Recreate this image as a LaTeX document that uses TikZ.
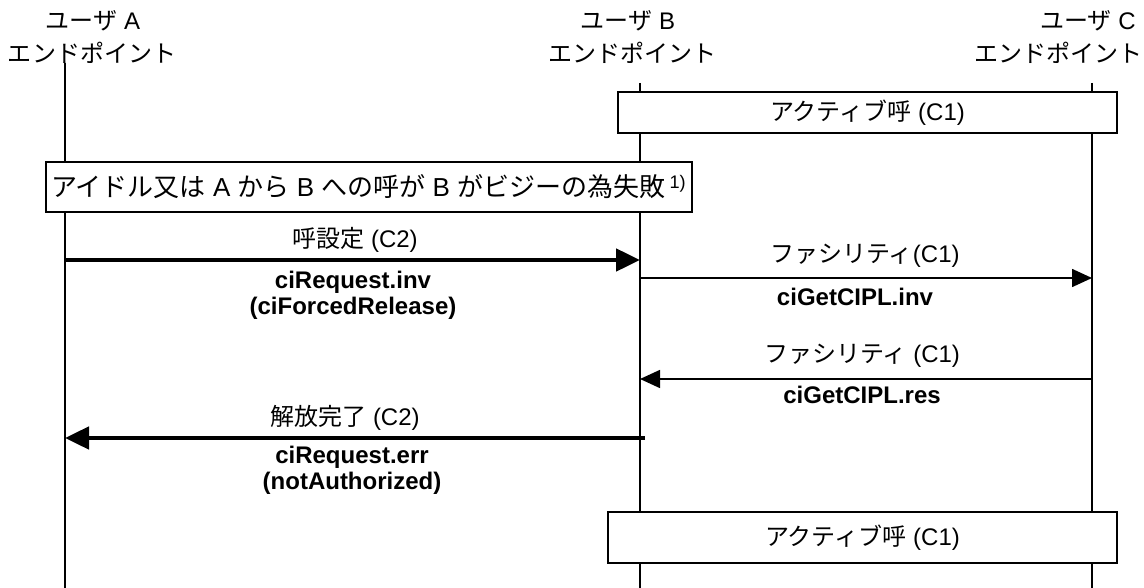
\documentclass[tikz,border=0pt]{standalone}
\usepackage{fontspec}
\setmainfont{Liberation Sans}
\newfontfamily\jp{Noto Sans CJK JP}
\usetikzlibrary{arrows.meta}
\newcommand\lbsize{\fontsize{12}{14.5}\selectfont}
\newcommand\cdsize{\fontsize{12}{13}\selectfont}
\newcommand\idsize{\fontsize{13}{15}\selectfont}
\tikzset{
  lifeline/.style={line width=1pt},
  bar/.style={draw,line width=1pt,fill=white,inner sep=0pt,font=\lbsize},
  lbl/.style={inner sep=0pt,font=\lbsize,anchor=center},
  code/.style={inner sep=0pt,font=\cdsize\bfseries,align=center,anchor=center},
  thickmsg/.style={line width=2.4pt,-{Triangle[length=12pt,width=11pt]}},
  thinmsg/.style={line width=0.8pt,-{Triangle[length=10pt,width=9pt]}},
}
\begin{document}
\begin{tikzpicture}[x=0.5pt,y=-0.5pt]
\useasboundingbox (0,0) rectangle (1144,588);
% headers
\node[lbl] (hA1) at (93,21) {{\jp ユーザ} A};
\node[lbl] (hA2) at (92,53) {\jp エンドポイント};
\node[lbl] (hB1) at (628,21) {{\jp ユーザ} B};
\node[lbl] (hB2) at (632,53) {\jp エンドポイント};
\node[lbl] (hC1) at (1088,21) {{\jp ユーザ} C};
\node[lbl] (hC2) at (1058,53) {\jp エンドポイント};
% lifeline ends
\coordinate (At) at (65,63);  \coordinate (Ab) at (65,588);
\coordinate (Bt) at (640,83); \coordinate (Bb) at (640,588);
\coordinate (Ct) at (1092,83); \coordinate (Cb) at (1092,588);
\draw[lifeline] (At) -- (Ab);
\draw[lifeline] (Bt) -- (Bb);
\draw[lifeline] (Ct) -- (Cb);
% state boxes
\node[bar,minimum width=249.5pt,minimum height=20.5pt] (act1) at (867.5,112.5) {{\jp アクティブ呼} (C1)};
\node[bar,minimum width=323pt,minimum height=25pt,font=\idsize] (idle) at (369,187)
  {{\jp アイドル又は} A {\jp から} B {\jp への呼が} B {\jp がビジーの為失敗}\,\textsuperscript{1)}};
\node[bar,minimum width=254.5pt,minimum height=25.5pt] (act2) at (862.5,537.5) {{\jp アクティブ呼} (C1)};
% message anchors
\coordinate (m1s) at (65,260);  \coordinate (m1e) at (640,260);
\coordinate (m2s) at (640,278); \coordinate (m2e) at (1092,278);
\coordinate (m3s) at (1092,379); \coordinate (m3e) at (640,379);
\coordinate (m4s) at (645,438); \coordinate (m4e) at (65,438);
\draw[thickmsg] (m1s) -- (m1e);
\draw[thinmsg] (m2s) -- (m2e);
\draw[thinmsg] (m3s) -- (m3e);
\draw[thickmsg] (m4s) -- (m4e);
% labels
\node[lbl] (l1) at (355,240) {{\jp 呼設定} (C2)};
\node[code] (c1) at (353,295) {ciRequest.inv\\(ciForcedRelease)};
\node[lbl] (l2) at (865,256) {{\jp ファシリティ}(C1)};
\node[code] (c2) at (855,297) {ciGetCIPL.inv};
\node[lbl] (l3) at (862,356) {{\jp ファシリティ} (C1)};
\node[code] (c3) at (862,395) {ciGetCIPL.res};
\node[lbl] (l4) at (345,418) {{\jp 解放完了} (C2)};
\node[code] (c4) at (352,470) {ciRequest.err\\(notAuthorized)};
\end{tikzpicture}
\end{document}
